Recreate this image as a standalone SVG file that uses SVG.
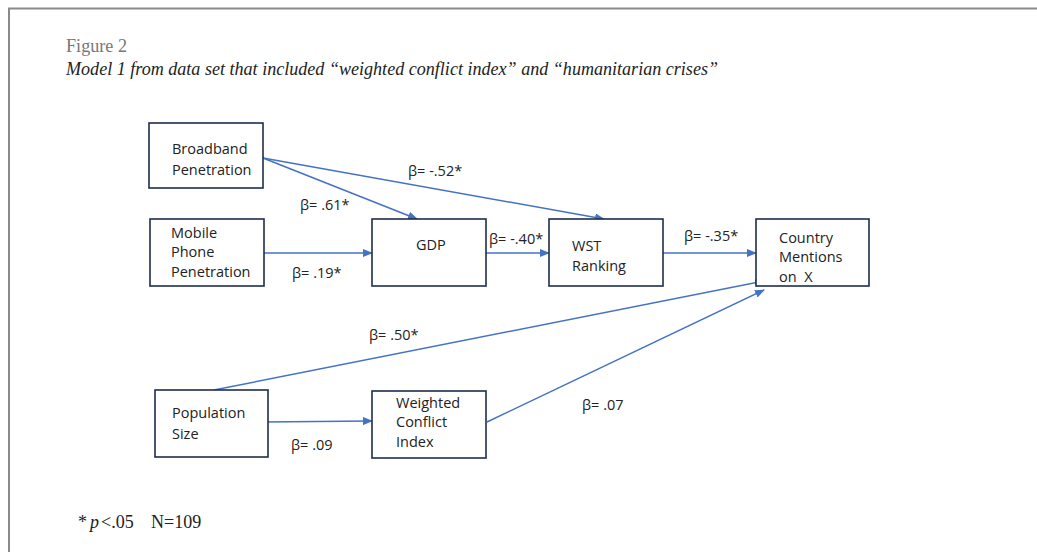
<svg xmlns="http://www.w3.org/2000/svg" width="1037" height="552" viewBox="0 0 1037 552">
<defs>
<marker id="ah" markerWidth="10" markerHeight="8" refX="9" refY="4" orient="auto" markerUnits="userSpaceOnUse">
<path d="M0,0 L10,4 L0,8 Z" fill="#4472C4"/>
</marker>
<style>
.box{fill:#fff;stroke:#1F2D4A;stroke-width:1.6}
.t{font-family:"Open Sans","Noto Sans",sans-serif;font-size:14.5px;fill:#222}
.c{stroke:#4472C4;stroke-width:1.5;fill:none}
.ca{stroke:#4472C4;stroke-width:1.5;fill:none;marker-end:url(#ah)}
.s{font-family:"Liberation Serif",serif;font-size:18px;fill:#222}
</style>
</defs>
<rect width="1037" height="552" fill="#fff"/>
<path d="M9,552 V8.5 H1037" fill="none" stroke="#8a8a8a" stroke-width="2"/>
<text class="s" x="66" y="52" style="fill:#777" textLength="61" lengthAdjust="spacingAndGlyphs">Figure 2</text>
<text class="s" x="66" y="75" font-style="italic" textLength="652" lengthAdjust="spacingAndGlyphs">Model 1 from data set that included “weighted conflict index” and “humanitarian crises”</text>
<text class="s" x="78" y="528">*</text>
<text class="s" x="90" y="528" font-style="italic">p</text>
<text class="s" x="101" y="528">&lt;.05</text>
<text class="s" x="151" y="528">N=109</text>

<g id="connectors">
<line class="ca" x1="263" y1="158" x2="417" y2="219"/>
<line class="ca" x1="263" y1="158" x2="604" y2="219"/>
<line class="ca" x1="262" y1="253" x2="372" y2="253"/>
<line class="ca" x1="486" y1="253" x2="549" y2="253"/>
<line class="ca" x1="663" y1="253" x2="756" y2="253"/>
<line class="ca" x1="214" y1="390" x2="764" y2="281"/>
<line class="ca" x1="487" y1="422" x2="764" y2="290"/>
<line class="ca" x1="262" y1="422" x2="372" y2="421"/>
<g class="t">
<text x="408" y="176">β= -.52*</text>
<text x="300" y="210">β= .61*</text>
<text x="489" y="244">β= -.40*</text>
<text x="292" y="278">β= .19*</text>
<text x="684" y="241">β= -.35*</text>
<text x="369" y="340">β= .50*</text>
<text x="291" y="450">β= .09</text>
<text x="582" y="410">β= .07</text>
</g>
</g>

<g id="broadband">
<rect class="box" x="149" y="123" width="114" height="65"/>
<text class="t" x="172" y="154">Broadband</text>
<text class="t" x="172" y="175">Penetration</text>
</g>
<g id="mobile">
<rect class="box" x="150" y="219" width="114" height="67"/>
<text class="t" x="171" y="238">Mobile</text>
<text class="t" x="171" y="257">Phone</text>
<text class="t" x="171" y="277">Penetration</text>
</g>
<g id="gdp">
<rect class="box" x="372" y="219" width="114" height="67"/>
<text class="t" x="416" y="250">GDP</text>
</g>
<g id="wst">
<rect class="box" x="549" y="219" width="114" height="67"/>
<text class="t" x="572" y="251">WST</text>
<text class="t" x="572" y="271">Ranking</text>
</g>
<g id="country">
<rect class="box" x="756" y="219" width="113" height="67"/>
<text class="t" x="779" y="243">Country</text>
<text class="t" x="779" y="262">Mentions</text>
<text class="t" x="779" y="282">on&#160; X</text>
</g>
<g id="population">
<rect class="box" x="155" y="390" width="113" height="67"/>
<text class="t" x="172" y="418">Population</text>
<text class="t" x="172" y="439">Size</text>
</g>
<g id="weighted">
<rect class="box" x="372" y="391" width="114" height="67"/>
<text class="t" x="396" y="408">Weighted</text>
<text class="t" x="396" y="427">Conflict</text>
<text class="t" x="396" y="447">Index</text>
</g>
</svg>
